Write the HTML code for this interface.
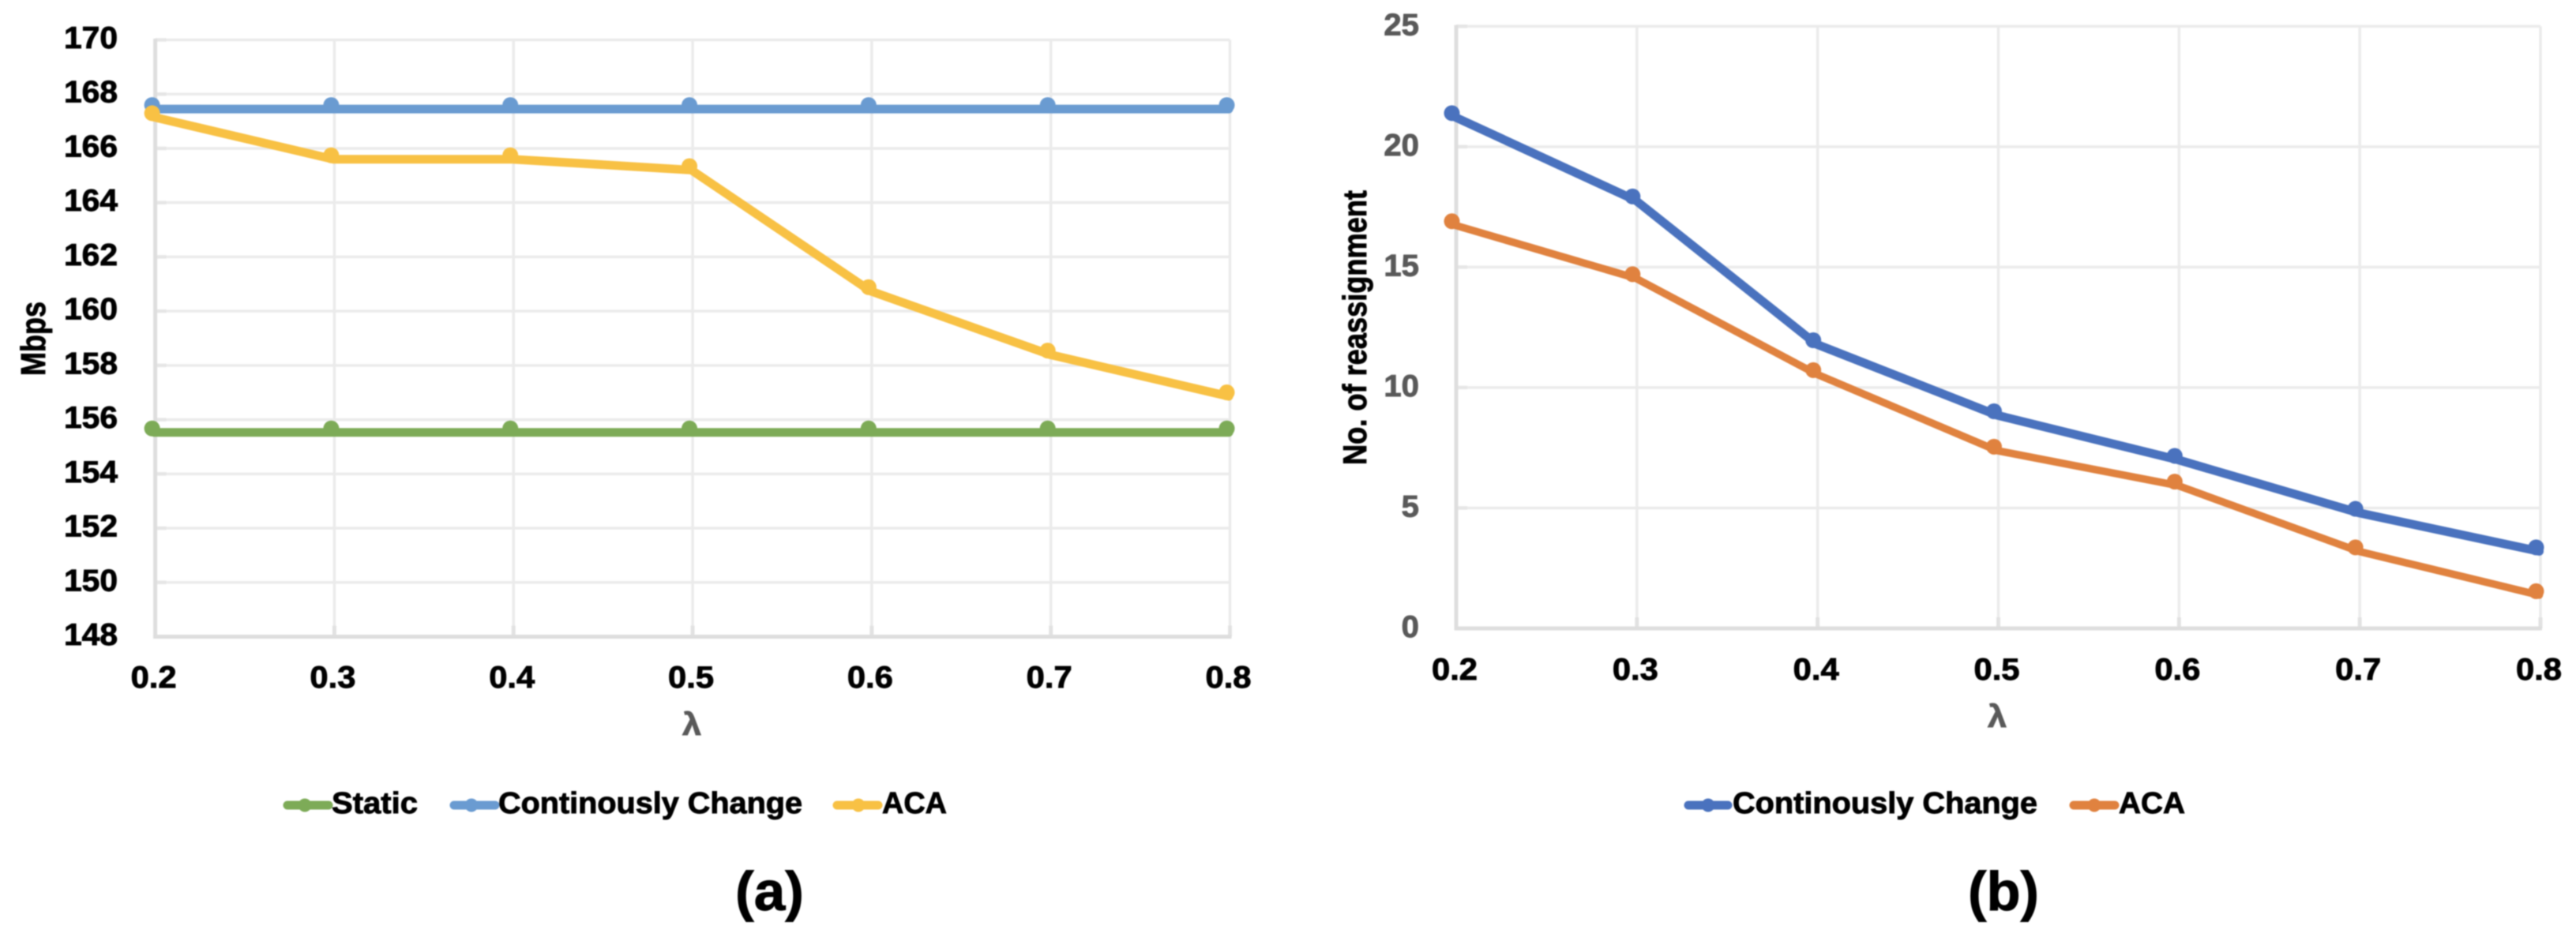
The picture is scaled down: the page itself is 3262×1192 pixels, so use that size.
<!DOCTYPE html>
<html lang="en">
<head>
<meta charset="utf-8">
<title>Throughput and reassignment versus lambda</title>
<style>
html,body{margin:0;padding:0;background:#fff;}
#figure{display:block;width:3262px;height:1192px;filter:blur(0.9px);}
text{font-family:"Liberation Sans","DejaVu Sans",sans-serif;font-weight:bold;}
</style>
</head>
<body>
<svg id="figure" xmlns="http://www.w3.org/2000/svg" width="3262" height="1192" viewBox="0 0 3262 1192">
  <rect x="0" y="0" width="3262" height="1192" fill="#fff"/>
  <g id="chart-a"></g>
  <g id="chart-b"></g>

  <text x="0" y="0" transform="translate(57,476) rotate(-90)" font-size="44" textLength="94" lengthAdjust="spacingAndGlyphs" fill="#000">Mbps</text>
  <text x="864" y="931" font-size="40" fill="#595959" textLength="24" lengthAdjust="spacingAndGlyphs">λ</text>

  <text x="0" y="0" transform="translate(1730,589) rotate(-90)" font-size="42" textLength="348" lengthAdjust="spacingAndGlyphs" fill="#000">No. of reassignment</text>
  <text x="2517" y="921" font-size="40" fill="#595959" textLength="24" lengthAdjust="spacingAndGlyphs">λ</text>

  <g>
    <g>
      <line x1="364" y1="1020" x2="416" y2="1020" stroke="#7DAB57" stroke-width="11" stroke-linecap="round"/>
      <circle cx="386" cy="1020" r="8.5" fill="#7DAB57"/>
      <text x="420" y="1030" font-size="38" textLength="109" lengthAdjust="spacingAndGlyphs" fill="#000">Static</text>
    </g>
    <g>
      <line x1="575" y1="1020" x2="627" y2="1020" stroke="#6A9BD1" stroke-width="11" stroke-linecap="round"/>
      <circle cx="597" cy="1020" r="8.5" fill="#6A9BD1"/>
      <text x="631" y="1030" font-size="38" textLength="385" lengthAdjust="spacingAndGlyphs" fill="#000">Continously Change</text>
    </g>
    <g>
      <line x1="1060" y1="1020" x2="1112" y2="1020" stroke="#F8C144" stroke-width="11" stroke-linecap="round"/>
      <circle cx="1087" cy="1020" r="8.5" fill="#F8C144"/>
      <text x="1117" y="1030" font-size="38" textLength="82" lengthAdjust="spacingAndGlyphs" fill="#000">ACA</text>
    </g>
  </g>

  <g>
    <g>
      <line x1="2138" y1="1020" x2="2188" y2="1020" stroke="#4A72BE" stroke-width="11" stroke-linecap="round"/>
      <circle cx="2163" cy="1020" r="8.5" fill="#4A72BE"/>
      <text x="2194" y="1030" font-size="38" textLength="386" lengthAdjust="spacingAndGlyphs" fill="#000">Continously Change</text>
    </g>
    <g>
      <line x1="2626" y1="1020" x2="2678" y2="1020" stroke="#E0823F" stroke-width="11" stroke-linecap="round"/>
      <circle cx="2652" cy="1020" r="8.5" fill="#E0823F"/>
      <text x="2683" y="1030" font-size="38" textLength="84" lengthAdjust="spacingAndGlyphs" fill="#000">ACA</text>
    </g>
  </g>

  <text x="931" y="1153" font-size="70" textLength="87" lengthAdjust="spacingAndGlyphs" fill="#000">(a)</text>
  <text x="2492" y="1153" font-size="70" textLength="90" lengthAdjust="spacingAndGlyphs" fill="#000">(b)</text>
</svg>
<script>
const lambdaCategories = ['0.2', '0.3', '0.4', '0.5', '0.6', '0.7', '0.8'];

const throughputTicks = [148, 150, 152, 154, 156, 158, 160, 162, 164, 166, 168, 170];
const staticValues = [155.53, 155.53, 155.53, 155.53, 155.53, 155.53, 155.53];
const continuousValues = [167.45, 167.45, 167.45, 167.45, 167.45, 167.45, 167.45];
const acaThroughputValues = [167.15, 165.6, 165.6, 165.2, 160.74, 158.4, 156.86];

const reassignTicks = [0, 5, 10, 15, 20, 25];
const continuousReassignValues = [21.23, 17.77, 11.8, 8.85, 7.0, 4.8, 3.2];
const acaReassignValues = [16.74, 14.54, 10.56, 7.38, 5.93, 3.2, 1.38];

const SVGNS = 'http://www.w3.org/2000/svg';

function make(parent, tag, attrs, txt) {
  const el = document.createElementNS(SVGNS, tag);
  Object.keys(attrs).forEach(function (k) { el.setAttribute(k, attrs[k]); });
  if (txt !== undefined) el.textContent = txt;
  parent.appendChild(el);
  return el;
}

function drawChart(cfg) {
  const root = document.getElementById(cfg.id);
  const n = lambdaCategories.length;
  const yMin = cfg.ticks[0];
  const yMax = cfg.ticks[cfg.ticks.length - 1];
  const xAt = function (i) { return cfg.left + (cfg.right - cfg.left) * i / (n - 1); };
  const yAt = function (v) { return cfg.bottom - (v - yMin) * (cfg.bottom - cfg.top) / (yMax - yMin); };

  cfg.ticks.forEach(function (t) {
    const y = yAt(t);
    if (t !== yMin) {
      const g = make(root, 'line', { x1: cfg.left, y1: y, x2: cfg.right, y2: y, stroke: '#EBEBEB', 'stroke-width': 3.5 });
      
      
      const m = make(root, 'line', { x1: cfg.left, y1: y, x2: cfg.left + 14, y2: y, stroke: '#E6E6E6', 'stroke-width': 4.5 });
      
      
    }
    const label = String(t);
    const w = label.length * cfg.digitW;
    const tx = make(root, 'text', {
      x: cfg.labelRight - w, y: y + cfg.labelDy, 'font-size': 39, fill: cfg.yColor,
      textLength: w, lengthAdjust: 'spacingAndGlyphs'
    }, label);
    
    
  });

  lambdaCategories.forEach(function (c, i) {
    const x = xAt(i);
    if (i > 0) {
      const g = make(root, 'line', { x1: x, y1: cfg.top, x2: x, y2: cfg.bottom, stroke: '#EBEBEB', 'stroke-width': 3.5 });
      
      
      const m = make(root, 'line', { x1: x, y1: cfg.bottom - 14, x2: x, y2: cfg.bottom, stroke: '#E2E2E2', 'stroke-width': 5 });
      
      
    }
    const tx = make(root, 'text', {
      x: x - 2 - 29, y: cfg.xLabelY, 'font-size': 39, fill: '#000',
      textLength: 58, lengthAdjust: 'spacingAndGlyphs'
    }, c);
    
    
  });

  const ya = make(root, 'line', { x1: cfg.left, y1: cfg.top - 1.5, x2: cfg.left, y2: cfg.bottom + 2.5, stroke: '#DEDEDE', 'stroke-width': 5 });
  
  
  const xa = make(root, 'line', { x1: cfg.left - 2.5, y1: cfg.bottom, x2: cfg.right + 2, y2: cfg.bottom, stroke: '#DEDEDE', 'stroke-width': 5 });
  
  

  cfg.series.forEach(function (s) {
    const pts = s.values.map(function (v, i) { return (xAt(i) - 1.5) + ',' + yAt(v); }).join(' ');
    const line = make(root, 'polyline', {
      points: pts, fill: 'none', stroke: s.color, 'stroke-width': s.width,
      'stroke-linejoin': 'round', 'stroke-linecap': 'round'
    });
    
    
    s.values.forEach(function (v, i) {
      const dot = make(root, 'circle', { cx: xAt(i) - cfg.markerDx, cy: yAt(v) - 5, r: 10, fill: s.color });
      
      
    });
  });
}

drawChart({
  id: 'chart-a', left: 196.6, right: 1557.5, top: 50.5, bottom: 806.5,
  ticks: throughputTicks, labelRight: 149, labelDy: 10.5, digitW: 22.67, yColor: '#000',
  xLabelY: 871, markerDx: 4,
  series: [
    { values: staticValues, color: '#7DAB57', width: 11 },
    { values: continuousValues, color: '#6A9BD1', width: 11 },
    { values: acaThroughputValues, color: '#F8C144', width: 11 }
  ]
});

drawChart({
  id: 'chart-b', left: 1844, right: 3217, top: 33.3, bottom: 796,
  ticks: reassignTicks, labelRight: 1797, labelDy: 11, digitW: 22.3, yColor: '#595959',
  xLabelY: 861, markerDx: 5.5,
  series: [
    { values: continuousReassignValues, color: '#4A72BE', width: 11 },
    { values: acaReassignValues, color: '#E0823F', width: 9.5 }
  ]
});

document.querySelectorAll('text').forEach(function (t) {
  t.setAttribute('stroke', t.getAttribute('fill'));
  t.setAttribute('stroke-width', '0.9');
});
</script>
</body>
</html>
